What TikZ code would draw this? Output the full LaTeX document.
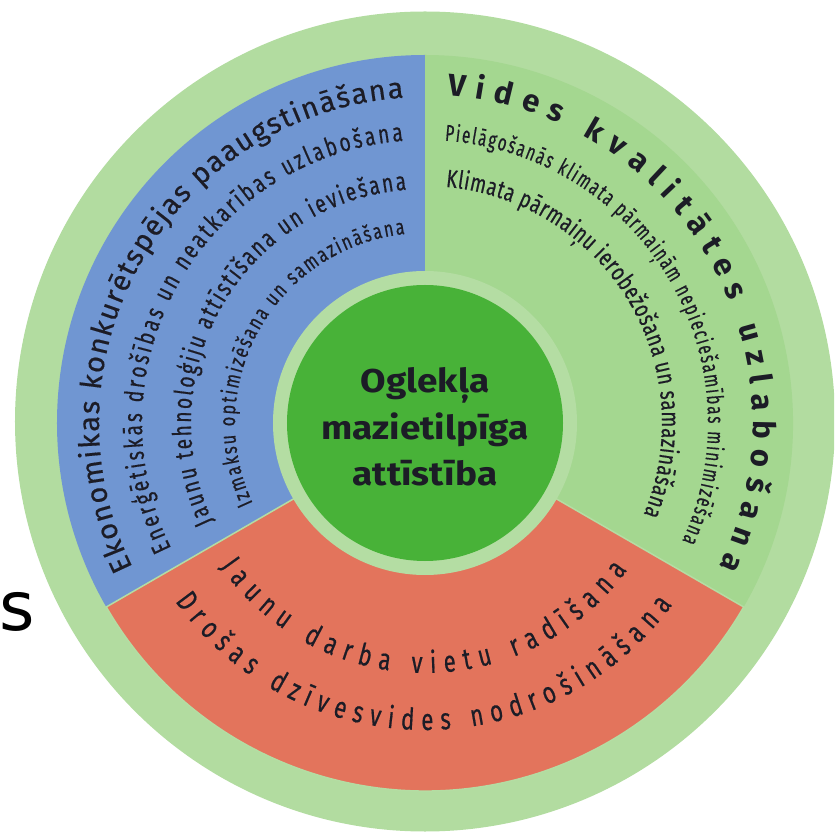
\documentclass[tikz,border=0pt]{standalone}
\usepackage{fontspec}
\setmainfont{Fira Sans}
\newfontfamily\linefont[FakeBold=0.4]{Fira Sans}
\newfontfamily\condfont[FakeStretch=0.74,FakeBold=0.5]{Fira Sans}
\newfontfamily\narrowfont[FakeStretch=0.66,FakeBold=0.5]{Fira Sans}
\newfontfamily\corefont[FakeStretch=1.12]{Fira Sans}
\newfontfamily\leftfont{DejaVu Sans}
\usetikzlibrary{decorations.text}
\definecolor{outerring}{HTML}{B2DCA0}
\definecolor{greensec}{HTML}{A4D790}
\definecolor{bluesec}{HTML}{7096D2}
\definecolor{redsec}{HTML}{E3745C}
\definecolor{coregreen}{HTML}{48B238}
\definecolor{corering}{HTML}{B4DDA3}
\definecolor{ink}{HTML}{1C1C26}
\tikzset{
  arctext/.style={decorate, decoration={text along path, text align={fit to path}, text color=ink, text={#1}}},
  sector/.style={draw=corering, line width=1.5pt}
}
\begin{document}
\begin{tikzpicture}[x=1pt,y=1pt]
\clip (-425,-411) rectangle (409,423);
\useasboundingbox (-425,-411) rectangle (409,423);
% outer ring
\fill[outerring] (0,1.5) circle[radius=410];
% sectors
\fill[bluesec] (0,0) -- (90:368) arc[start angle=90, end angle=210, radius=368] -- cycle;
\fill[greensec] (0,0) -- (-30:368) arc[start angle=-30, end angle=90, radius=368] -- cycle;
\filldraw[fill=redsec, sector] (0,0) -- (210:368) arc[start angle=210, end angle=330, radius=368] -- cycle;
% center
\fill[corering] (0,0) circle[radius=152];
\node[circle, fill=coregreen, minimum size=276, inner sep=0] (core) at (0,0) {};
\node[align=center, text=ink, font=\corefont\bfseries\fontsize{33}{46.5}\selectfont] (coretext) at (0,-4) {Oglekļa\\mazietilpīga\\attīstība};
% blue sector texts
\path[arctext={|\linefont\fontsize{29}{30}\selectfont|Ekonomikas konkurētspējas paaugstināšana}] (206.3:326) arc[start angle=206.3, end angle=93.7, radius=326];
\path[arctext={|\condfont\fontsize{26}{30}\selectfont|Enerģētiskās drošības un neatkarības uzlabošana}] (206.3:283) arc[start angle=206.3, end angle=94.4, radius=283];
\path[arctext={|\condfont\fontsize{26}{30}\selectfont|Jaunu tehnoloģiju attīstīšana un ieviešana}] (205:234) arc[start angle=205, end angle=94.5, radius=234];
\path[arctext={|\condfont\fontsize{22}{25}\selectfont|Izmaksu optimizēšana un samazināšana}] (205:190) arc[start angle=205, end angle=96, radius=190];
% green sector texts
\path[arctext={|\bfseries\fontsize{31}{34}\selectfont|Vides kvalitātes uzlabošana}] (86:328) arc[start angle=86, end angle=-26, radius=328];
\path[arctext={|\narrowfont\fontsize{23}{27}\selectfont|Pielāgošanās klimata pārmaiņām nepieciešamības minimizēšana}] (86:283) arc[start angle=86, end angle=-24.6, radius=283];
\path[arctext={|\condfont\fontsize{25}{28}\selectfont|Klimata pārmaiņu ierobežošana un samazināšana}] (85:237) arc[start angle=85, end angle=-22.7, radius=237];
% red sector texts
\path[arctext={|\condfont\fontsize{30}{32}\selectfont|Jaunu darba vietu radīšana}] (215:250) arc[start angle=215, end angle=324, radius=250];
\path[arctext={|\condfont\fontsize{30}{32}\selectfont|Drošas dzīvesvides nodrošināšana}] (215.5:307) arc[start angle=215.5, end angle=323.7, radius=307];
% stray letter at the left edge
\node[anchor=base west, inner sep=0, text=black, font=\leftfont\fontsize{68}{70}\selectfont] (stray) at (-426,-207) {s};
\end{tikzpicture}
\end{document}
